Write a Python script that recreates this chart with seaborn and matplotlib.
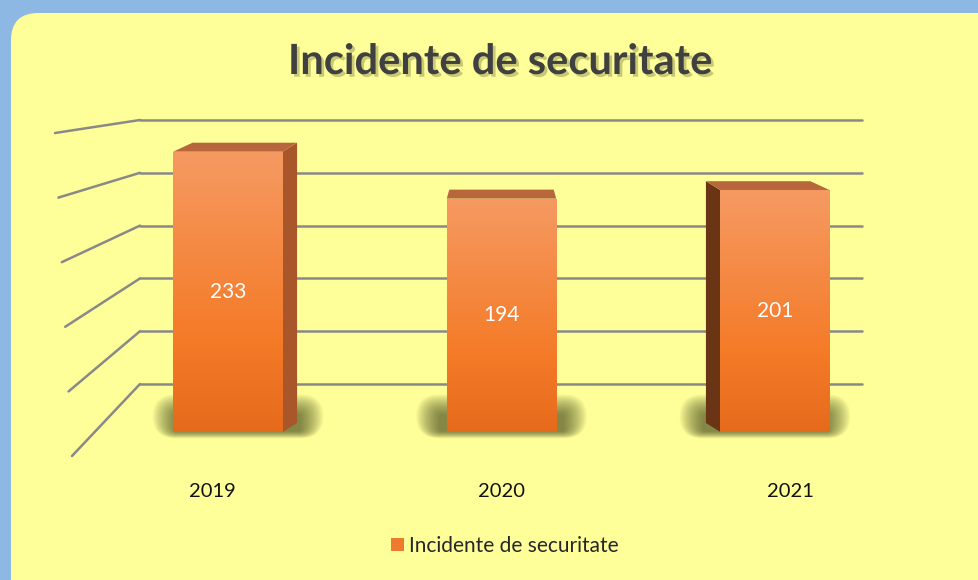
import matplotlib

matplotlib.use("Agg")
import matplotlib.pyplot as plt
import matplotlib.transforms as mtransforms
import numpy as np
import pandas as pd
import seaborn as sns
from matplotlib import patheffects as pe
from matplotlib.colors import LinearSegmentedColormap
from matplotlib.lines import Line2D
from matplotlib.patches import FancyBboxPatch, Polygon, Rectangle

# data
years = ["2019", "2020", "2021"]
incidents = [233, 194, 201]
series_name = "Incidente de securitate"
title = "Incidente de securitate"
wall_ticks = [0, 50, 100, 150, 200, 250]

W, H = 979, 580


def fx(px):
    return px / W


def fy(py):
    return 1 - py / H


def to_fig(fig, disp):
    return fig.transFigure.inverted().transform(disp)


sns.set_theme(style="white")
plt.rcParams["font.family"] = ["Lato", "DejaVu Sans"]

fig = plt.figure(figsize=(W / 100, H / 100), dpi=100)
fig.patch.set_facecolor("#8DB8E4")
panel = FancyBboxPatch(
    (fx(11), fy(620)), fx(1020) - fx(11), fy(13) - fy(620),
    boxstyle="round,pad=0,rounding_size=0.028", mutation_aspect=W / H,
    transform=fig.transFigure, facecolor="#FFFF99", edgecolor="none", zorder=-5,
)
fig.patches.append(panel)

# back wall with the value grid
wall = fig.add_axes([fx(140), fy(384), fx(862) - fx(140), fy(100) - fy(384)])
wall.set_ylim(0, (384 - 100) / 1.056)
wall.set_xlim(0, 1)
wall.set_yticks(wall_ticks)
wall.set_xticks([])
wall.yaxis.grid(True, color="#898989", linewidth=1.8)
for gl in wall.get_ygridlines():
    gl.set_clip_on(False)
wall.tick_params(left=False, labelleft=False)
wall.set_facecolor("none")
sns.despine(ax=wall, left=True, bottom=True)

# side wall lines running to the front
for v in wall_ticks:
    back = to_fig(fig, wall.transData.transform((0, v)))
    front = (fx(72 - 17 * v / 250), fy(456 - 323 * v / 250))
    fig.lines.append(Line2D([front[0], back[0]], [front[1], back[1]], transform=fig.transFigure,
                            color="#898989", linewidth=1.8, zorder=-1))

# bars
px_per_x = 273.5
px_per_y = 1.203
ax = fig.add_axes([fx(91), fy(432), fx(912) - fx(91), fy(100) - fy(432)])
df = pd.DataFrame({"year": years, "value": incidents})
sns.barplot(data=df, x="year", y="value", ax=ax, width=0.40, color="#F08030",
            saturation=1, zorder=3, edgecolor="none", linewidth=0)
ax.set_facecolor("none")
sns.despine(ax=ax, left=True, bottom=True)
ax.set_ylim(0, 332 / px_per_y)
ax.set_xlim(-0.5, 2.5)
ax.set_yticks([])
ax.set_ylabel("")
ax.set_xlabel("")

cmap = LinearSegmentedColormap.from_list("bar", ["#E66A1C", "#F47B28", "#F58A45", "#F69A62"])
grad = np.linspace(0, 1, 256).reshape(-1, 1)
dy = 9 / px_per_y
for i, patch in enumerate(list(ax.patches)):
    x0 = patch.get_x()
    w = patch.get_width()
    h = patch.get_height()
    x1 = x0 + w
    dx = (1 - i) * 17 / px_per_x
    shrink = 2.5 / px_per_x
    x0b, x1b = x0 + dx + shrink, x1 + dx - shrink

    # blurred shadow behind the base, built from soft rounded layers
    cx = x0 + w / 2 + dx * 0.6
    for k in range(16):
        grow = (8 + 1.5 * k) / px_per_x
        bottom = (0.5 - 0.45 * k) / px_per_y
        top = (18 + 1.3 * k) / px_per_y
        rad = (3 + 1.3 * k) / px_per_x
        ax.add_patch(FancyBboxPatch((cx - w / 2 - grow, bottom), w + 2 * grow, top - bottom,
                                    boxstyle=f"round,pad=0,rounding_size={rad}",
                                    mutation_aspect=px_per_x / px_per_y,
                                    facecolor="#3A3F14", edgecolor="none", alpha=0.055,
                                    zorder=1, clip_on=False))

    # gradient front face
    im = ax.imshow(grad, extent=[x0, x1, 0, h], origin="lower", aspect="auto", cmap=cmap, zorder=3.5)
    im.set_clip_path(patch)

    # top face
    ax.add_patch(Polygon([(x0, h), (x1, h), (x1b, h + dy), (x0b, h + dy)], closed=True,
                         facecolor="#B8673C", edgecolor="none", zorder=2.5))
    if dx > 0:
        ax.add_patch(Polygon([(x1, 0), (x1, h), (x1b, h + dy), (x1b, dy)], closed=True,
                             facecolor="#A8562A", edgecolor="none", zorder=2.4))
    elif dx < 0:
        ax.add_patch(Polygon([(x0, 0), (x0, h), (x0b, h + dy), (x0b, dy)], closed=True,
                             facecolor="#6A3515", edgecolor="none", zorder=2.4))

ax.set_ylim(0, 332 / px_per_y)
ax.set_xlim(-0.5, 2.5)

ax.bar_label(ax.containers[0], labels=[str(v) for v in incidents], label_type="center",
             color="white", fontsize=15, zorder=5)
ax.tick_params(axis="x", length=0, pad=37, labelsize=14.5, labelcolor="#111111")
# perspective: the floor labels spread a little wider than the bar fronts
for pos, lab in zip(ax.get_xticks(), ax.get_xticklabels()):
    shift = (pos - 1) * 0.04 * px_per_x / 72
    lab.set_transform(lab.get_transform() + mtransforms.ScaledTranslation(shift, 0, fig.dpi_scale_trans))

fig.text(fx(500), fy(62), title, ha="center", va="center", fontsize=30, fontweight="bold",
         color="#404040",
         path_effects=[pe.withSimplePatchShadow(offset=(2, -2), shadow_rgbFace="#7A7A40", alpha=0.4)])

handle = Rectangle((0, 0), 1, 1, facecolor="#EE7A30", edgecolor="none")
fig.legend([handle], [series_name], loc="center", bbox_to_anchor=(fx(505), fy(546)), frameon=False,
           fontsize=15, handlelength=0.6, handleheight=0.6, handletextpad=0.25)

fig.savefig("out.png", dpi=100, facecolor=fig.get_facecolor())
